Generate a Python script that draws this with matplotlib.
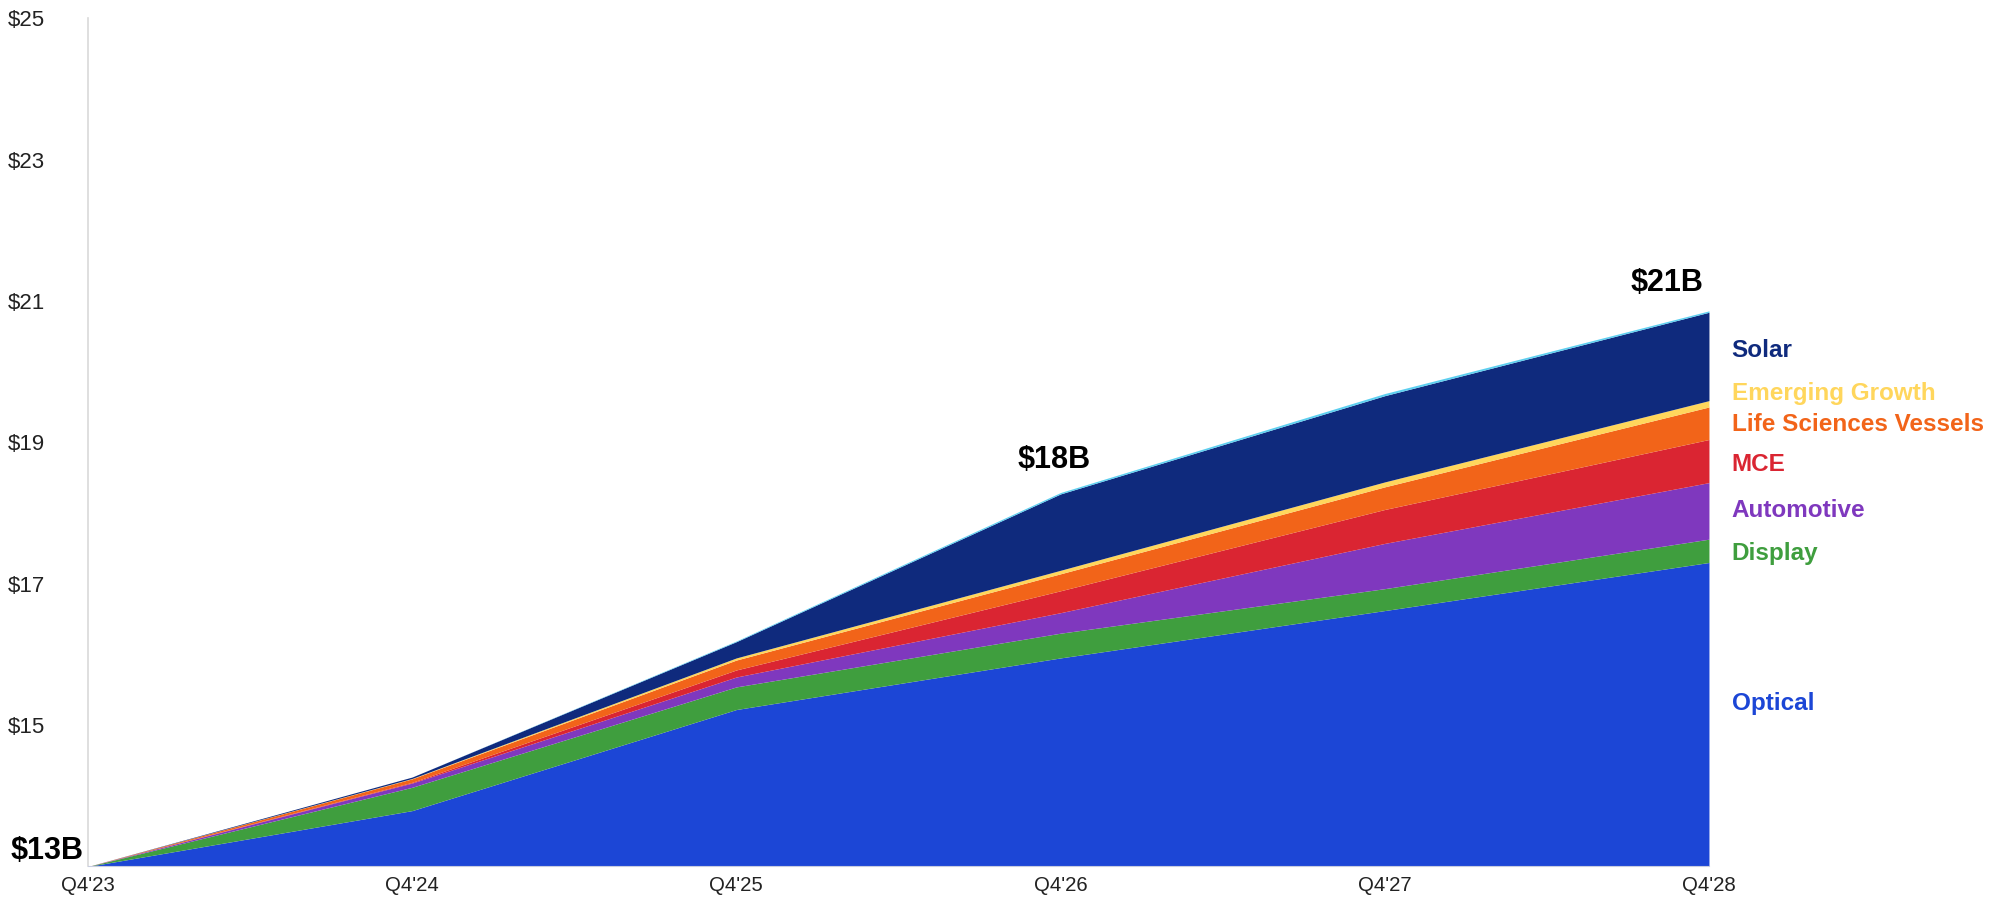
import matplotlib.pyplot as plt
import numpy as np

plt.rcParams['font.family'] = ['Liberation Sans', 'DejaVu Sans']

quarters = ["Q4'23", "Q4'24", "Q4'25", "Q4'26", "Q4'27", "Q4'28"]
base = 13.0

# revenue by segment, $B above the 13B starting point
optical = [0, 0.79, 2.22, 2.95, 3.62, 4.30]
display = [0, 0.33, 0.32, 0.35, 0.31, 0.33]
automotive = [0, 0.06, 0.14, 0.29, 0.64, 0.80]
mce = [0, 0.01, 0.10, 0.31, 0.48, 0.61]
life_sciences = [0, 0.05, 0.14, 0.24, 0.32, 0.46]
emerging = [0, 0.005, 0.03, 0.05, 0.07, 0.09]
solar = [0, 0.02, 0.23, 1.08, 1.22, 1.25]
other = [0, 0, 0.01, 0.02, 0.03, 0.02]

segments = ['Optical', 'Display', 'Automotive', 'MCE', 'Life Sciences Vessels', 'Emerging Growth', 'Solar']
series = [optical, display, automotive, mce, life_sciences, emerging, solar, other]
colors = ['#1c46d6', '#3f9e3e', '#7f38be', '#da2532', '#f26419', '#ffd65c', '#0f2a7d', '#5ccff0']

# label y positions for the right-hand legend
label_y = [15.30, 17.43, 18.03, 18.68, 19.25, 19.69, 20.30]

totals = [18, 21]
total_y = [18.75, 21.26]
total_x = [2.98, 4.87]

x = np.arange(len(quarters))

fig = plt.figure(figsize=(20.07, 9.09), dpi=100)
ax = fig.add_axes([0.0438, 0.0468, 0.8077, 0.9332])

bottom = np.full(len(x), base)
for vals, c in zip(series, colors):
    top = bottom + np.array(vals)
    ax.fill_between(x, bottom, top, color=c, linewidth=0)
    bottom = top

ax.set_xlim(0, 5)
ax.set_ylim(13, 25)
ax.set_yticks([15, 17, 19, 21, 23, 25])
ax.set_yticklabels(['$%d' % v for v in [15, 17, 19, 21, 23, 25]])
ax.set_xticks(x)
ax.set_xticklabels(quarters)
ax.tick_params(axis='both', length=0, colors='#222222')
ax.tick_params(axis='y', pad=31, labelsize=16)
ax.tick_params(axis='x', pad=7, labelsize=14.7)

for s in ['top', 'right']:
    ax.spines[s].set_visible(False)
ax.spines['left'].set_color('#d9d9d9')
ax.spines['bottom'].set_color('#c8cde0')
ax.spines['left'].set_linewidth(1.2)

ax.text(-0.014, 13.22, '$13B', ha='right', va='center', fontsize=22,
        fontweight='bold', color='black')
for t, ty, tx in zip(totals, total_y, total_x):
    ax.text(tx, ty, '$%dB' % t, ha='center', va='center', fontsize=22,
            fontweight='bold', color='black')

for name, c, ly in zip(segments, colors, label_y):
    ax.text(5.07, ly, name, ha='left', va='center', fontsize=17.5,
            fontweight='bold', color=c, clip_on=False)

fig.savefig('out.png', dpi=100)
